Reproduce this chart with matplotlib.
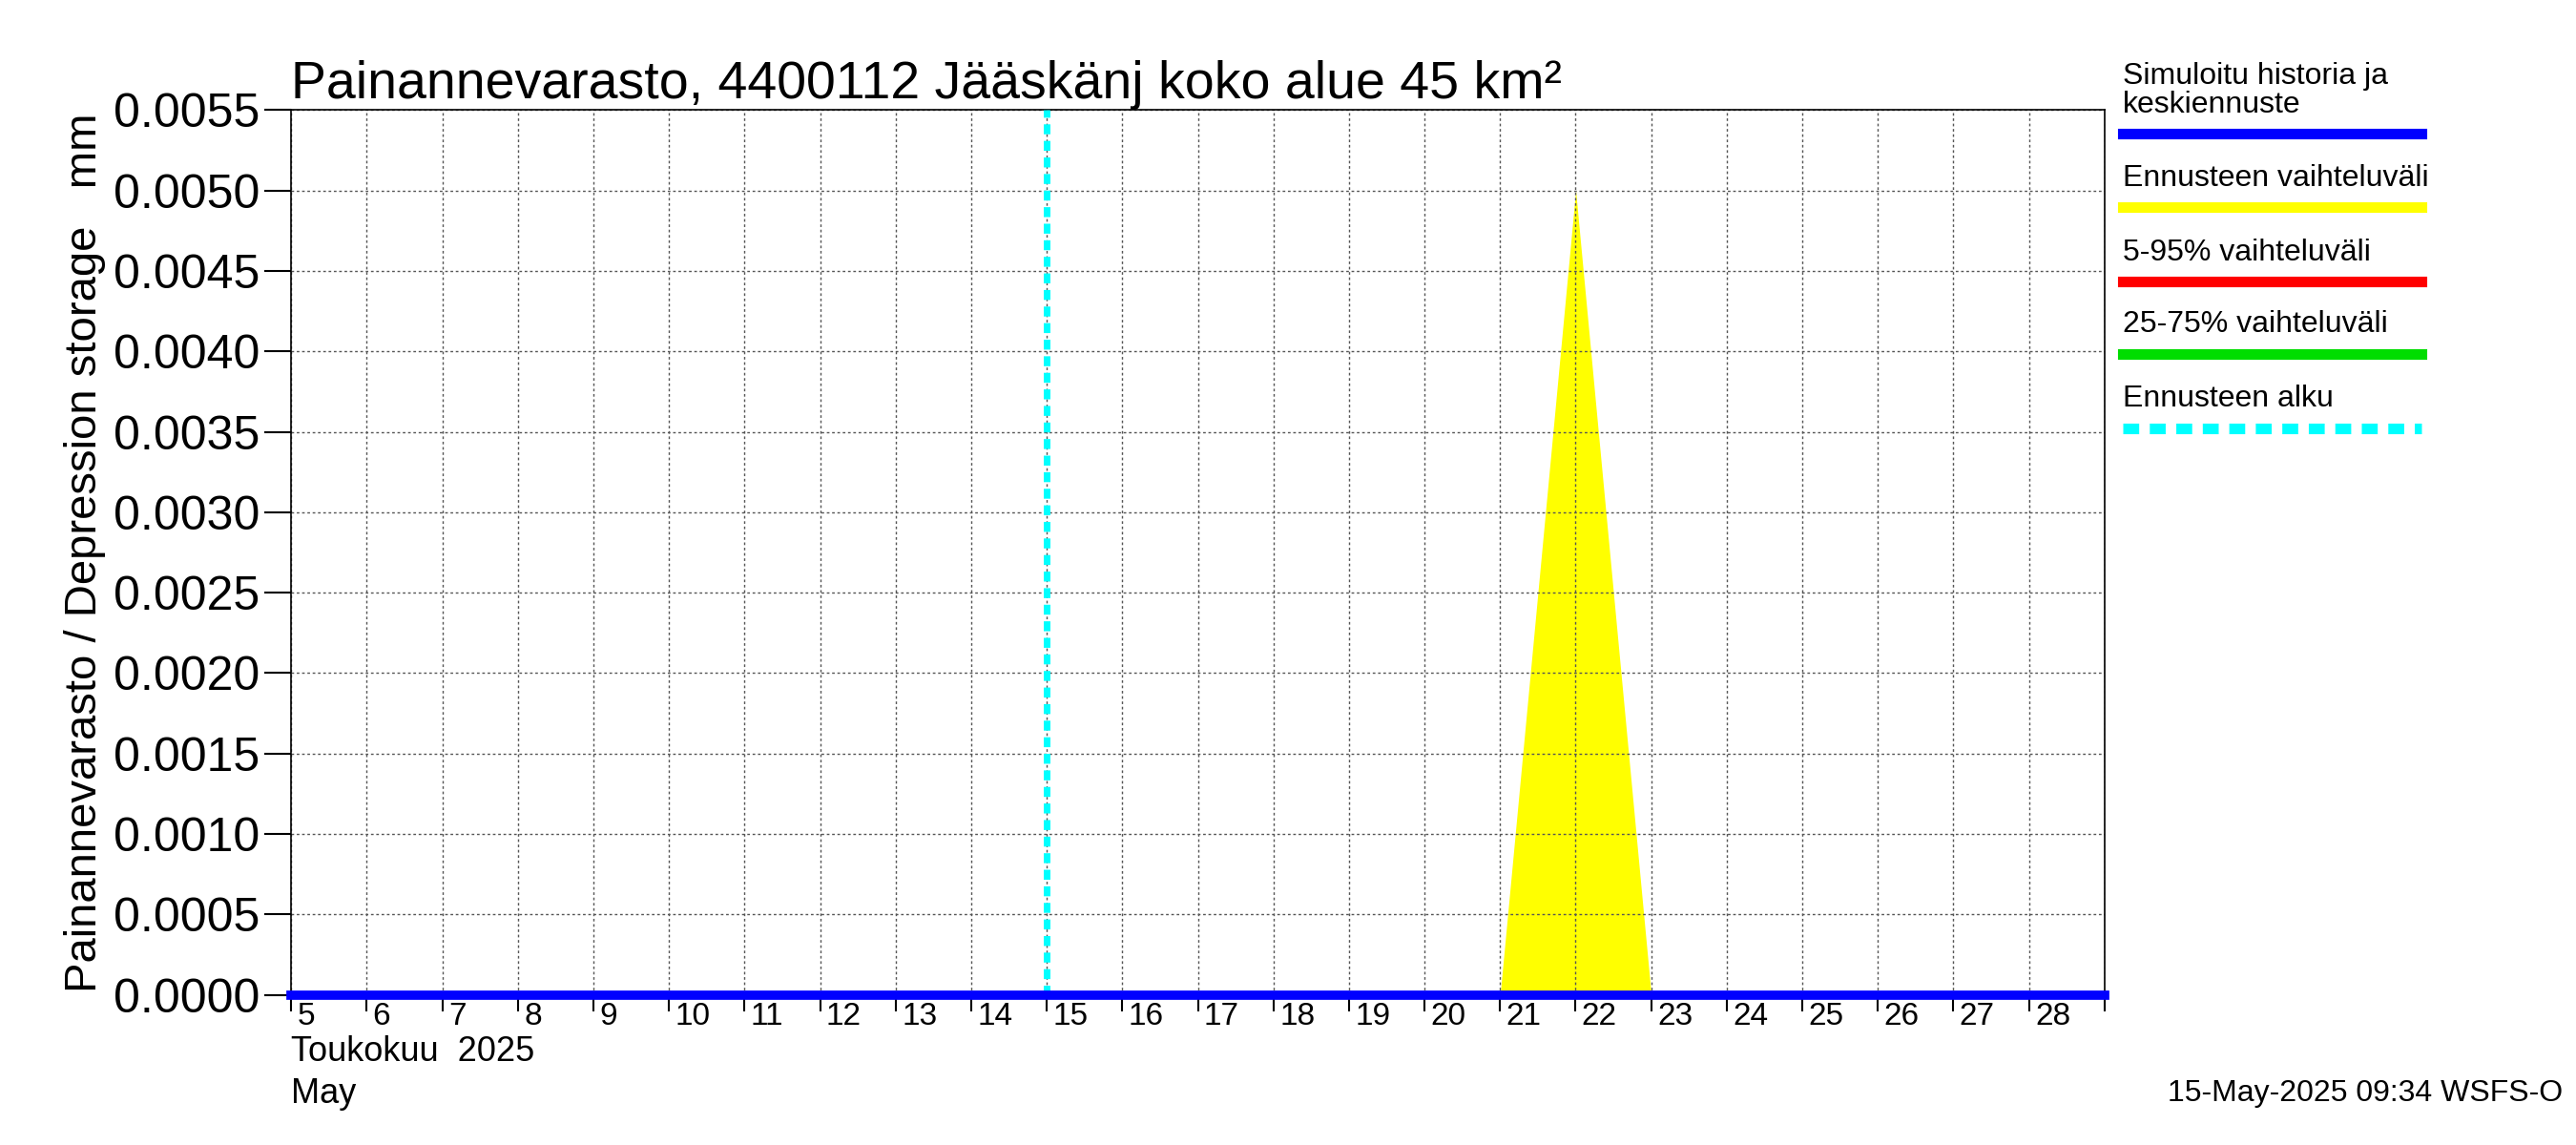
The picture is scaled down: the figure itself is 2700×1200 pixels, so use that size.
import matplotlib
matplotlib.use("Agg")
import matplotlib.pyplot as plt
import numpy as np

plt.rcParams["font.family"] = "Liberation Sans"

days = list(range(5, 29))
band_x = [21.0, 22.0, 23.0]
band_y = [0.0, 0.0050, 0.0]
mean_x = [5.0, 29.0]
mean_y = [0.0, 0.0]
forecast_start = 15.0
yticks = [i * 0.0005 for i in range(12)]

fig = plt.figure(figsize=(27, 12), dpi=100)
ax = fig.add_axes([0.113, 0.131, 0.704, 0.773])
ax.fill_between(band_x, 0, band_y, color="yellow", linewidth=0)
ax.plot(mean_x, mean_y, color="blue", lw=7, clip_on=False, zorder=5)
ax.axvline(forecast_start, color="cyan", lw=5, ls=(0, (1.5, 1)), zorder=4)
ax.set_xlim(5, 29)
ax.set_ylim(0, 0.0055)
ax.set_xticks(days + [29])
ax.set_xticklabels([""] * 25)
for d in days:
    ax.text(d + 0.08, -0.00004, str(d), ha="left", va="top", fontsize=24)
ax.set_yticks(yticks)
ax.set_yticklabels([f"{v:.4f}" for v in yticks], fontsize=36)
ax.tick_params(axis="y", length=20, width=1.5, direction="out")
ax.tick_params(axis="x", length=12, width=1.5, direction="out")
ax.grid(True, color="#555555", ls=(0, (2, 2)), lw=1)
for s in ax.spines.values():
    s.set_linewidth(1.2)
ax.set_ylabel("Painannevarasto / Depression storage   mm", fontsize=34, labelpad=6)
ax.set_title("Painannevarasto, 4400112 Jääskänj koko alue 45 km²", fontsize=40, loc="left", x=0.0, pad=8)
fig.text(0.113, 0.081, "Toukokuu  2025", fontsize=26, va="center")
fig.text(0.113, 0.045, "May", fontsize=26, va="center")
fig.text(0.995, 0.045, "15-May-2025 09:34 WSFS-O", fontsize=23, ha="right", va="center")

items = [("Simuloitu historia ja\nkeskiennuste", "blue", "-"),
         ("Ennusteen vaihteluväli", "yellow", "-"),
         ("5-95% vaihteluväli", "red", "-"),
         ("25-75% vaihteluväli", "#00dd00", "-"),
         ("Ennusteen alku", "cyan", (0, (1.5, 1)))]
ys = [0.883, 0.819, 0.754, 0.691, 0.626]
for (lab, c, ls), y in zip(items, ys):
    fig.text(0.824, y + 0.013, lab, fontsize=23, va="bottom", linespacing=1.0)
    fig.add_artist(plt.Line2D([0.824, 0.94], [y, y], color=c, lw=8, ls=ls, transform=fig.transFigure))

fig.savefig("out.png")
